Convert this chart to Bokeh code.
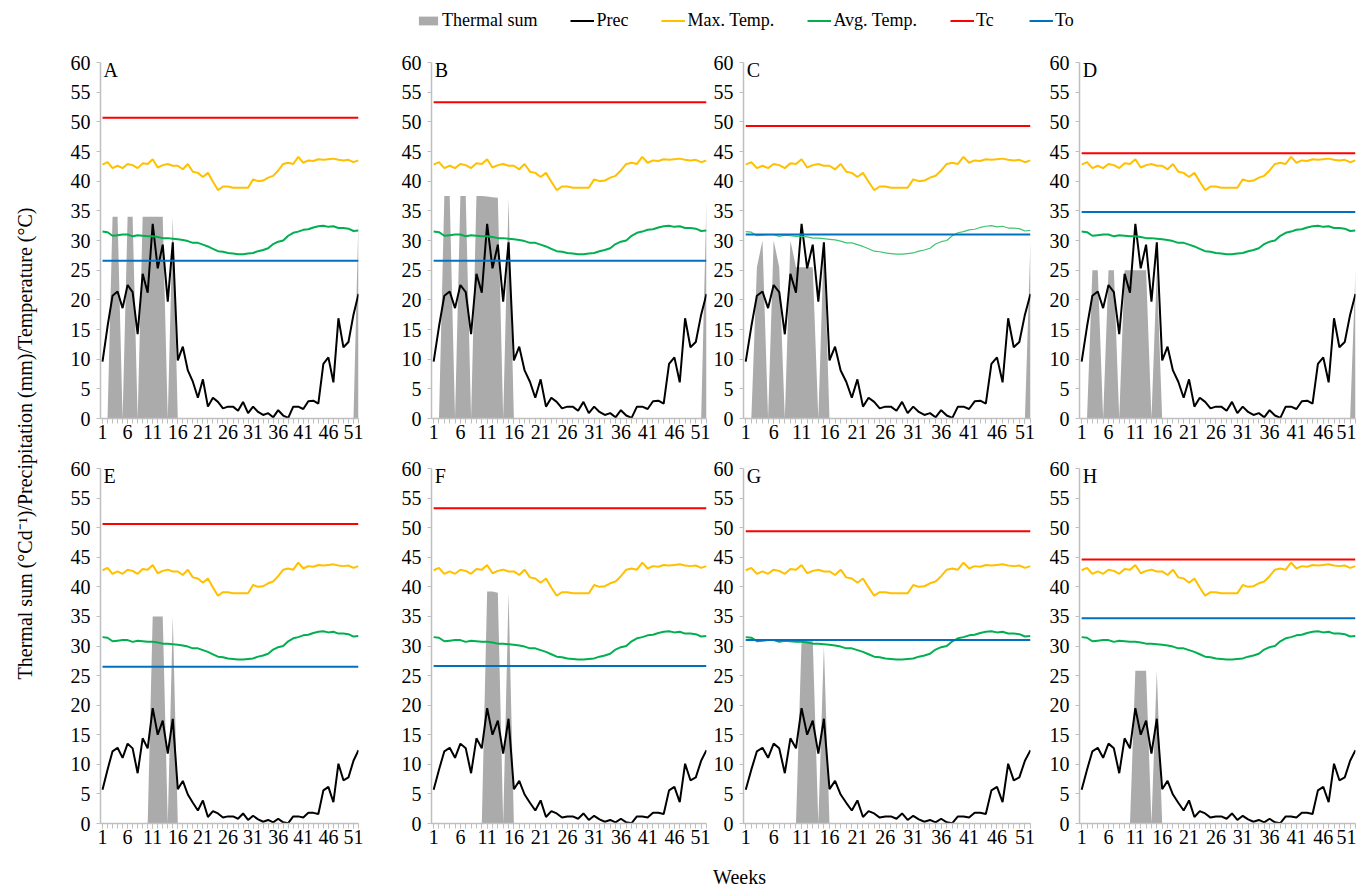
import math
from bokeh.plotting import figure
from bokeh.layouts import row, column
from bokeh.models import Range1d, FixedTicker, Legend, LegendItem, Label
from bokeh.core.properties import value
from bokeh.embed import file_html
from bokeh.resources import INLINE

# ---------------- data ----------------
weeks = list(range(1, 53))
x_tick_labels = [1, 6, 11, 16, 21, 26, 31, 36, 41, 46, 51]
y_ticks = [0, 5, 10, 15, 20, 25, 30, 35, 40, 45, 50, 55, 60]

prec_top = [9.6, 15.5, 20.7, 21.4, 18.6, 22.5, 21.3, 14.2, 24.4, 21.2,
            32.8, 25.3, 29.3, 19.7, 29.7, 9.8, 12.1, 8.1, 6.2, 3.5,
            6.6, 2.0, 3.5, 2.8, 1.7, 2.0, 2.0, 1.3, 2.8, 0.9,
            2.0, 1.1, 0.6, 0.9, 0.2, 1.4, 0.5, 0.1, 2.0, 2.0,
            1.6, 2.9, 3.0, 2.5, 9.2, 10.3, 6.1, 16.9, 12.0, 12.9,
            17.5, 21.0]
prec_bottom = [5.7, 9.1, 12.2, 12.8, 11.1, 13.5, 12.7, 8.5, 14.4, 12.7,
               19.5, 15.0, 17.4, 11.8, 17.7, 5.8, 7.2, 4.9, 3.5, 2.2,
               3.9, 1.1, 2.1, 1.7, 1.0, 1.2, 1.2, 0.8, 1.7, 0.6,
               1.3, 0.7, 0.3, 0.6, 0.2, 0.8, 0.2, 0.05, 1.2, 1.2,
               1.0, 1.8, 1.8, 1.6, 5.6, 6.2, 3.6, 10.1, 7.3, 7.8,
               10.6, 12.4]
max_temp = [42.8, 43.2, 42.2, 42.6, 42.2, 42.9, 42.7, 42.2, 43.0, 42.9,
            43.7, 42.3, 42.7, 42.9, 42.6, 42.6, 42.0, 42.9, 41.6, 41.4,
            40.7, 41.4, 39.9, 38.5, 39.1, 39.1, 38.9, 38.9, 38.9, 38.9,
            40.3, 40.0, 40.1, 40.6, 40.9, 41.8, 42.9, 43.1, 42.9, 44.1,
            43.1, 43.5, 43.4, 43.7, 43.6, 43.7, 43.8, 43.6, 43.5, 43.6,
            43.2, 43.5]
avg_temp = [31.5, 31.4, 30.8, 30.9, 31.0, 31.0, 30.7, 30.9, 30.8, 30.7,
            30.7, 30.6, 30.4, 30.4, 30.3, 30.2, 30.1, 29.9, 29.6, 29.6,
            29.3, 29.0, 28.6, 28.2, 28.1, 27.9, 27.8, 27.7, 27.7, 27.8,
            27.9, 28.2, 28.4, 28.7, 29.4, 29.8, 30.0, 30.8, 31.3, 31.5,
            31.8, 31.9, 32.2, 32.4, 32.5, 32.3, 32.4, 32.1, 32.1, 32.0,
            31.6, 31.7]

ts_A = [0, 0, 34, 34, 0, 34, 34, 0, 34, 34, 34, 34, 34, 0, 34, 0,
        0, 0, 0, 0, 0, 0, 0, 0, 0, 0, 0, 0, 0, 0, 0, 0, 0, 0, 0, 0,
        0, 0, 0, 0, 0, 0, 0, 0, 0, 0, 0, 0, 0, 0, 0, 34]
ts_B = [0, 0, 37.5, 37.5, 0, 37.5, 37.5, 0, 37.5, 37.5, 37.4, 37.3, 37.2, 0, 37, 0,
        0, 0, 0, 0, 0, 0, 0, 0, 0, 0, 0, 0, 0, 0, 0, 0, 0, 0, 0, 0,
        0, 0, 0, 0, 0, 0, 0, 0, 0, 0, 0, 0, 0, 0, 0, 37]
ts_C = [0, 0, 25.5, 30, 0, 30, 25.5, 0, 30, 25.5, 25.5, 25.5, 25.5, 0, 30, 0,
        0, 0, 0, 0, 0, 0, 0, 0, 0, 0, 0, 0, 0, 0, 0, 0, 0, 0, 0, 0,
        0, 0, 0, 0, 0, 0, 0, 0, 0, 0, 0, 0, 0, 0, 0, 30]
ts_D = [0, 0, 25, 25, 0, 25, 25, 0, 25, 25, 25, 25, 25, 0, 25, 0,
        0, 0, 0, 0, 0, 0, 0, 0, 0, 0, 0, 0, 0, 0, 0, 0, 0, 0, 0, 0,
        0, 0, 0, 0, 0, 0, 0, 0, 0, 0, 0, 0, 0, 0, 0, 25]
ts_E = [0, 0, 0, 0, 0, 0, 0, 0, 0, 0, 35, 35, 35, 0, 35, 0,
        0, 0, 0, 0, 0, 0, 0, 0, 0, 0, 0, 0, 0, 0, 0, 0, 0, 0, 0, 0,
        0, 0, 0, 0, 0, 0, 0, 0, 0, 0, 0, 0, 0, 0, 0, 0]
ts_F = [0, 0, 0, 0, 0, 0, 0, 0, 0, 0, 39.2, 39.2, 39.0, 0, 39, 0,
        0, 0, 0, 0, 0, 0, 0, 0, 0, 0, 0, 0, 0, 0, 0, 0, 0, 0, 0, 0,
        0, 0, 0, 0, 0, 0, 0, 0, 0, 0, 0, 0, 0, 0, 0, 0]
ts_G = [0, 0, 0, 0, 0, 0, 0, 0, 0, 0, 31, 31, 31, 0, 30, 0,
        0, 0, 0, 0, 0, 0, 0, 0, 0, 0, 0, 0, 0, 0, 0, 0, 0, 0, 0, 0,
        0, 0, 0, 0, 0, 0, 0, 0, 0, 0, 0, 0, 0, 0, 0, 0]
ts_H = [0, 0, 0, 0, 0, 0, 0, 0, 0, 0, 25.8, 25.8, 25.8, 0, 25.8, 0,
        0, 0, 0, 0, 0, 0, 0, 0, 0, 0, 0, 0, 0, 0, 0, 0, 0, 0, 0, 0,
        0, 0, 0, 0, 0, 0, 0, 0, 0, 0, 0, 0, 0, 0, 0, 0]

panel_letters = ["A", "B", "C", "D", "E", "F", "G", "H"]
tc_values = [50.7, 53.3, 49.3, 44.7, 50.6, 53.3, 49.4, 44.6]
to_values = [26.6, 26.6, 31.0, 34.8, 26.5, 26.6, 31.0, 34.7]
thermal = [ts_A, ts_B, ts_C, ts_D, ts_E, ts_F, ts_G, ts_H]

legend_labels = ["Thermal sum", "Prec", "Max. Temp.", "Avg. Temp.", "Tc", "To"]

# ---------------- style ----------------
FONT = "Liberation Serif"
GRAY_FILL = "#ababab"
C_PREC = "#000000"
C_MAX = "#ffc000"
C_AVG = "#00b050"
C_TC = "#ff0000"
C_TO = "#0070c0"
AXIS_C = "#bfbfbf"

YLAB_W = 58
LEG_H = 40
XLAB_H = 30
# column geometry: (border_left, frame_width, border_right)
cols = [(42, 258, 40), (32, 276, 4), (32, 288, 16), (32, 277, 1)]
# row geometry: (border_top, frame_height, border_bottom)
rows_geom = [(22, 356, 36), (14, 355, 36)]


def make_panel(i):
    ci = i % 4
    ri = i // 4
    bl, fw, br = cols[ci]
    bt, fh, bb = rows_geom[ri]
    p = figure(width=bl + fw + br, height=bt + fh + bb,
               x_range=Range1d(0.6, 52), y_range=Range1d(0, 60),
               output_backend="svg", toolbar_location=None,
               min_border_left=bl, min_border_right=br,
               min_border_top=bt, min_border_bottom=bb)
    p.outline_line_color = None
    p.grid.visible = False
    p.background_fill_color = "white"

    prec = prec_top if ri == 0 else prec_bottom
    p.varea(x=weeks, y1=0, y2=thermal[i], fill_color=GRAY_FILL)
    p.line(weeks, prec, line_color=C_PREC, line_width=2)
    p.line(weeks, max_temp, line_color=C_MAX, line_width=2)
    if i == 2:
        p.line(weeks, avg_temp, line_color="#3fc472", line_width=1.2)
    else:
        p.line(weeks, avg_temp, line_color=C_AVG, line_width=2)
    p.line(weeks, [tc_values[i]] * len(weeks), line_color=C_TC, line_width=2)
    p.line(weeks, [to_values[i]] * len(weeks), line_color=C_TO, line_width=2)

    xa = p.xaxis[0]
    xa.ticker = FixedTicker(ticks=x_tick_labels, minor_ticks=weeks)
    xa.axis_line_color = AXIS_C
    xa.axis_line_width = 1.5
    xa.major_tick_line_color = AXIS_C
    xa.minor_tick_line_color = AXIS_C
    xa.major_tick_in = 0
    xa.major_tick_out = 5
    xa.minor_tick_in = 0
    xa.minor_tick_out = 5
    xa.major_label_standoff = 1
    xa.major_label_text_font = FONT
    xa.major_label_text_font_size = "20px"
    xa.major_label_text_color = "black"

    ya = p.yaxis[0]
    ya.ticker = FixedTicker(ticks=y_ticks)
    ya.axis_line_color = AXIS_C
    ya.axis_line_width = 1.5
    ya.major_tick_line_color = AXIS_C
    ya.major_tick_in = 0
    ya.major_tick_out = 4
    ya.minor_tick_out = 0
    ya.minor_tick_in = 0
    ya.major_label_standoff = 6
    ya.major_label_text_font = FONT
    ya.major_label_text_font_size = "20px"
    ya.major_label_text_color = "black"

    p.add_layout(Label(x=1.2, y=60, y_offset=4, text=panel_letters[i], text_baseline="top",
                       text_align="left", text_font=FONT, text_font_size="20px",
                       text_color="black"))
    return p


panels = [make_panel(i) for i in range(8)]
total_w = YLAB_W + sum(a + b + c for a, b, c in cols)

# ---------------- legend figure ----------------
lf = figure(width=total_w, height=LEG_H, x_range=Range1d(0, 1), y_range=Range1d(0, 1),
            x_axis_type=None, y_axis_type=None, output_backend="svg",
            toolbar_location=None, min_border=0)
lf.outline_line_color = None
lf.grid.visible = False
# legend proxies: placed outside the visible range, only their swatches are shown
proxy_x = [-5, -4]
proxy_y = [-5, -4]
r_ts = lf.varea(x=proxy_x, y1=proxy_y, y2=proxy_x, fill_color=GRAY_FILL)
r_pr = lf.line(x=proxy_x, y=proxy_y, line_color=C_PREC, line_width=2)
r_mx = lf.line(x=proxy_x, y=proxy_y, line_color=C_MAX, line_width=2)
r_av = lf.line(x=proxy_x, y=proxy_y, line_color=C_AVG, line_width=2)
r_tc = lf.line(x=proxy_x, y=proxy_y, line_color=C_TC, line_width=2)
r_to = lf.line(x=proxy_x, y=proxy_y, line_color=C_TO, line_width=2)
rends = [r_ts, r_pr, r_mx, r_av, r_tc, r_to]
legend = Legend(items=[LegendItem(label=l, renderers=[r]) for l, r in zip(legend_labels, rends)],
                orientation="horizontal", location=(416, 9),
                glyph_width=24, glyph_height=11, label_standoff=2, spacing=33,
                padding=0, margin=0, border_line_color=None,
                background_fill_alpha=0,
                label_text_font=FONT, label_text_font_size="18px",
                label_text_color="black")
lf.add_layout(legend, "center")

# ---------------- y label figure ----------------
grid_h = sum(a + b + c for a, b, c in rows_geom)
yl = figure(width=YLAB_W, height=grid_h, x_range=Range1d(0, 1), y_range=Range1d(0, 1),
            x_axis_type=None, y_axis_type=None, output_backend="svg",
            toolbar_location=None, min_border=0)
yl.outline_line_color = None
yl.grid.visible = False
yl.text(x=[0.43], y=[0.508], text=["Thermal sum (°Cd⁻¹)/Precipitation (mm)/Temperature (°C)"],
        angle=math.pi / 2, text_align="center", text_baseline="middle",
        text_font=value(FONT), text_font_size="20px", text_color="black")

# ---------------- x label figure ----------------
xl = figure(width=total_w, height=XLAB_H, x_range=Range1d(0, 1), y_range=Range1d(0, 1),
            x_axis_type=None, y_axis_type=None, output_backend="svg",
            toolbar_location=None, min_border=0)
xl.outline_line_color = None
xl.grid.visible = False
xl.text(x=[0.545], y=[0.42], text=["Weeks"], text_align="center", text_baseline="middle",
        text_font=value(FONT), text_font_size="20px", text_color="black")

layout = column(
    lf,
    row(yl, column(row(*panels[:4]), row(*panels[4:]))),
    xl,
)

html = file_html(layout, INLINE, "chart")
open("out.html", "w").write(html)
